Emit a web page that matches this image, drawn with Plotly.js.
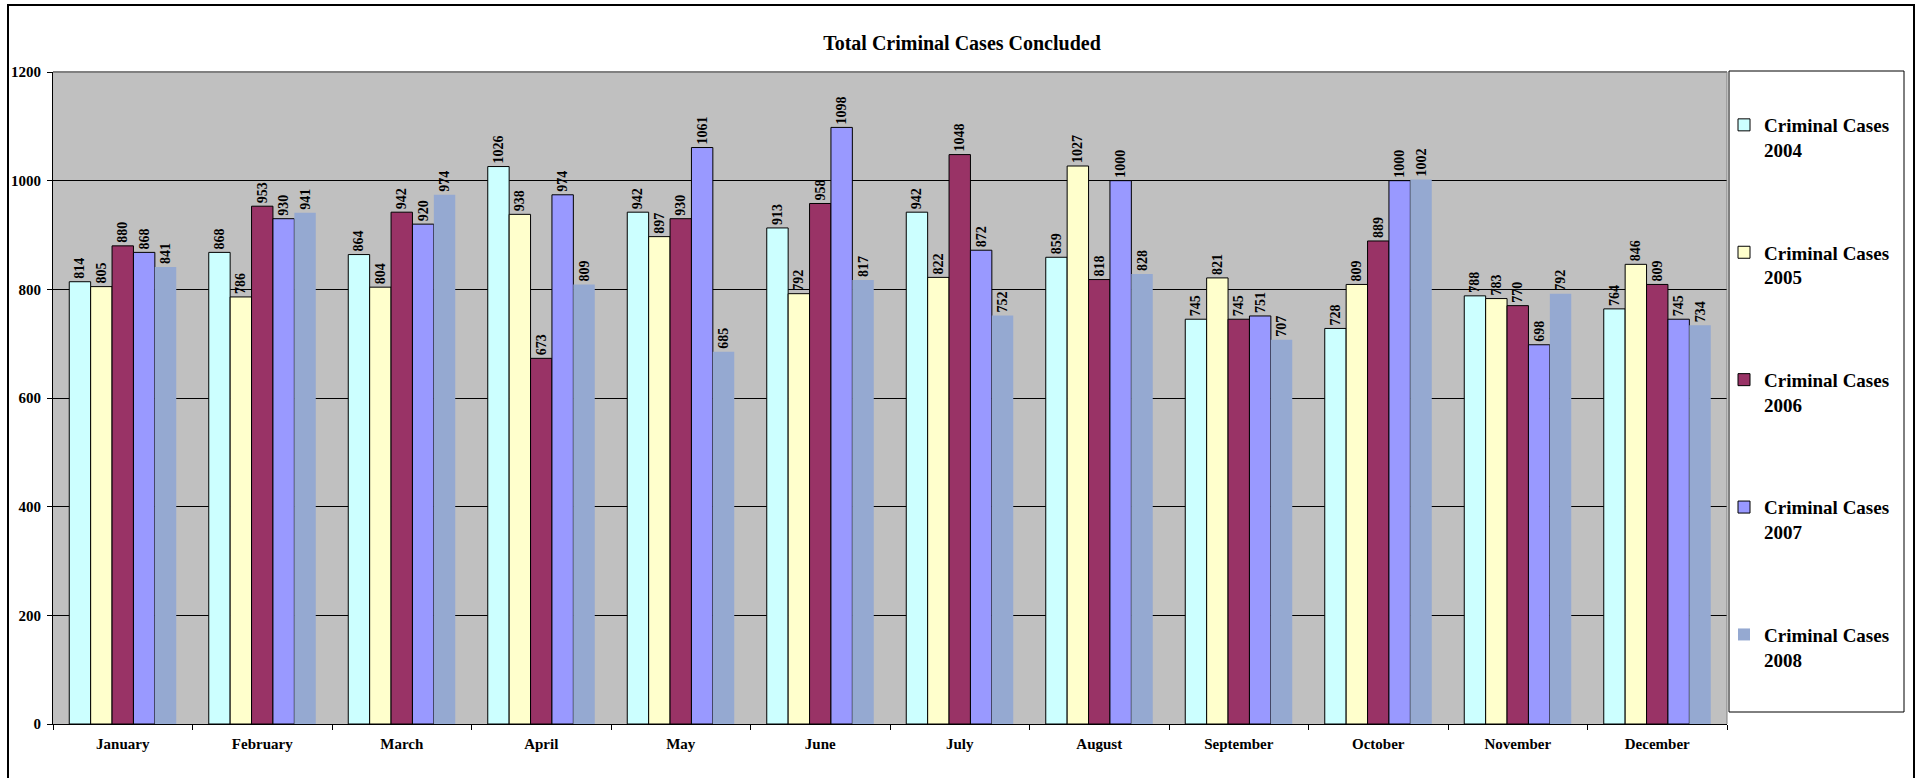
<!DOCTYPE html>
<html>
<head>
<meta charset="utf-8">
<script src="https://cdn.plot.ly/plotly-3.0.1.min.js"></script>
<style>
html,body{margin:0;padding:0;background:#ffffff;}
#chart{width:1923px;height:778px;}
</style>
</head>
<body>
<div id="chart"></div>
<script>
const months = ["January","February","March","April","May","June","July","August","September","October","November","December"];
const seriesNames = ["Criminal Cases<br>2004","Criminal Cases<br>2005","Criminal Cases<br>2006","Criminal Cases<br>2007","Criminal Cases<br>2008"];
const cases2004 = [814, 868, 864, 1026, 942, 913, 942, 859, 745, 728, 788, 764];
const cases2005 = [805, 786, 804, 938, 897, 792, 822, 1027, 821, 809, 783, 846];
const cases2006 = [880, 953, 942, 673, 930, 958, 1048, 818, 745, 889, 770, 809];
const cases2007 = [868, 930, 920, 974, 1061, 1098, 872, 1000, 751, 1000, 698, 745];
const cases2008 = [841, 941, 974, 809, 685, 817, 752, 828, 707, 1002, 792, 734];
const yTicks = [0, 200, 400, 600, 800, 1000, 1200];

const seriesValues = [cases2004, cases2005, cases2006, cases2007, cases2008];
const colors = ["#CCFFFF", "#FFFFCC", "#993366", "#9999FF", "#95A9D1"];
const outline = [1, 1, 1, 1, 0];

const W = 1923, H = 778;
const M = {l: 53, r: 196, t: 72, b: 54};
const PW = W - M.l - M.r, PH = H - M.t - M.b;
function px(p){ return (p - M.l) / PW; }
function py(p){ return (H - M.b - p) / PH; }

const FONT = "Liberation Serif, Times New Roman, serif";

const traces = seriesValues.map((vals, i) => ({
  type: "bar",
  name: seriesNames[i],
  x: months,
  y: vals,
  legendgroup: "g" + i,
  marker: {color: colors[i], line: {color: "#000000", width: outline[i]}},
  text: vals.map(String),
  texttemplate: "%{text}",
  textposition: "outside",
  textangle: -90,
  constraintext: "none",
  cliponaxis: false,
  textfont: {family: FONT, size: 14, color: "#000000", weight: "bold"},
  hoverinfo: "x+y+name"
}));

const layout = {
  width: W, height: H,
  margin: M,
  paper_bgcolor: "#ffffff",
  plot_bgcolor: "#C0C0C0",
  barmode: "group",
  bargap: 0.233,
  bargroupgap: 0,
  showlegend: true,
  title: {
    text: "Total Criminal Cases Concluded",
    font: {family: FONT, size: 20, color: "#000000", weight: "bold"},
    xref: "container", yref: "container",
    x: 962 / W, y: 1 - 43 / H, xanchor: "center", yanchor: "middle"
  },
  xaxis: {
    type: "category",
    showgrid: false,
    zeroline: false,
    showline: true, linecolor: "#000000", linewidth: 1,
    ticks: "outside", tickson: "boundaries", ticklen: 5, tickcolor: "#000000",
    ticklabelstandoff: 6,
    tickfont: {family: FONT, size: 15, color: "#000000", weight: "bold"},
    fixedrange: true
  },
  yaxis: {
    range: [0, 1200],
    tickvals: yTicks,
    ticktext: yTicks.map(String),
    showgrid: true, gridcolor: "#000000", gridwidth: 1,
    zeroline: false,
    showline: true, linecolor: "#000000", linewidth: 1,
    ticks: "outside", ticklen: 5, tickcolor: "#000000",
    ticklabelstandoff: 3,
    tickfont: {family: FONT, size: 15, color: "#000000", weight: "bold"},
    fixedrange: true
  },
  legend: {
    x: px(1724), y: py(106), xanchor: "left", yanchor: "top",
    bgcolor: "rgba(0,0,0,0)", borderwidth: 0,
    font: {family: FONT, size: 19, color: "#000000", weight: "bold"},
    traceorder: "grouped",
    tracegroupgap: 75,
    valign: "top"
  },
  shapes: [
    {type: "rect", xref: "paper", yref: "paper",
     x0: px(8), x1: px(1914), y0: py(820), y1: py(5),
     line: {color: "#000000", width: 2}, fillcolor: "rgba(0,0,0,0)", layer: "below"},
    {type: "rect", xref: "paper", yref: "paper",
     x0: px(1729), x1: px(1904), y0: py(712), y1: py(71),
     line: {color: "#000000", width: 1}, fillcolor: "#ffffff", layer: "below"},
    {type: "line", xref: "paper", yref: "paper",
     x0: 0, x1: 1, y0: 1, y1: 1, line: {color: "#808080", width: 2}, layer: "above"},
    {type: "line", xref: "paper", yref: "paper",
     x0: 1, x1: 1, y0: 0, y1: 1, line: {color: "#808080", width: 1}, layer: "above"}
  ]
};

Plotly.newPlot("chart", traces, layout, {displayModeBar: false, staticPlot: true});
</script>
</body>
</html>
